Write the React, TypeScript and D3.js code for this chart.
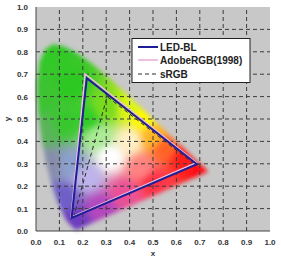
import React, { useMemo } from "react";
import * as d3 from "d3";

// CIE 1931 spectral locus (x, y) from 380 nm to 700 nm
const locusX = [0.1741,0.1740,0.1738,0.1736,0.1733,0.1730,0.1726,0.1721,0.1714,0.1703,0.1689,0.1669,0.1644,0.1611,0.1566,0.1510,0.1440,0.1355,0.1241,0.1096,0.0913,0.0687,0.0454,0.0235,0.0082,0.0039,0.0139,0.0389,0.0743,0.1142,0.1547,0.1929,0.2296,0.2658,0.3016,0.3373,0.3731,0.4087,0.4441,0.4788,0.5125,0.5448,0.5752,0.6029,0.6270,0.6482,0.6658,0.6801,0.6915,0.7006,0.7079,0.7140,0.7190,0.7230,0.7260,0.7300,0.7347];
const locusY = [0.0050,0.0050,0.0049,0.0049,0.0048,0.0048,0.0048,0.0048,0.0051,0.0058,0.0069,0.0086,0.0109,0.0138,0.0177,0.0227,0.0297,0.0399,0.0578,0.0868,0.1327,0.2007,0.2950,0.4127,0.5384,0.6548,0.7502,0.8120,0.8338,0.8262,0.8059,0.7816,0.7543,0.7243,0.6923,0.6589,0.6245,0.5896,0.5547,0.5202,0.4866,0.4544,0.4242,0.3965,0.3725,0.3514,0.3340,0.3197,0.3083,0.2993,0.2920,0.2859,0.2809,0.2770,0.2740,0.2700,0.2653];

// Gamut triangles (R, G, B vertices)
const ledX = [0.688, 0.217, 0.152];
const ledY = [0.298, 0.682, 0.058];
const adobeX = [0.685, 0.210, 0.150];
const adobeY = [0.305, 0.701, 0.062];
const srgbX = [0.675, 0.304, 0.162];
const srgbY = [0.300, 0.600, 0.066];

const ticks = [0, 0.1, 0.2, 0.3, 0.4, 0.5, 0.6, 0.7, 0.8, 0.9, 1.0];
const legendLabels = ["LED-BL", "AdobeRGB(1998)", "sRGB"];

// colour anchors for the stylised gamut fill: x, y, r, g, b
const anchors: number[][] = [
  [0.08, 0.80, 50, 200, 40],
  [0.03, 0.60, 60, 195, 50],
  [0.15, 0.65, 45, 200, 35],
  [0.22, 0.50, 50, 205, 40],
  [0.12, 0.48, 55, 200, 45],
  [0.04, 0.45, 90, 180, 90],
  [0.30, 0.55, 120, 220, 30],
  [0.40, 0.55, 220, 245, 20],
  [0.46, 0.50, 255, 250, 0],
  [0.27, 0.42, 170, 235, 150],
  [0.32, 0.33, 255, 255, 255],
  [0.40, 0.40, 255, 240, 200],
  [0.50, 0.42, 255, 180, 40],
  [0.55, 0.37, 255, 100, 40],
  [0.63, 0.32, 255, 30, 30],
  [0.72, 0.27, 255, 10, 20],
  [0.45, 0.28, 255, 130, 130],
  [0.50, 0.22, 255, 50, 70],
  [0.38, 0.17, 235, 80, 150],
  [0.28, 0.10, 180, 70, 190],
  [0.22, 0.24, 190, 180, 235],
  [0.15, 0.30, 140, 160, 205],
  [0.06, 0.30, 135, 140, 170],
  [0.12, 0.15, 110, 95, 200],
  [0.17, 0.04, 110, 60, 190],
];

const W = 281, H = 262;
const x = d3.scaleLinear().domain([0, 1]).range([36, 270]);
const y = d3.scaleLinear().domain([0, 1]).range([231, 7]);

function colorAt(px: number, py: number): number[] {
  let ws = 0, r = 0, g = 0, b = 0;
  for (const a of anchors) {
    const d2 = (px - a[0]) ** 2 + (py - a[1]) ** 2 + 1e-5;
    const w = 1 / Math.pow(d2, 1.9);
    ws += w; r += w * a[2]; g += w * a[3]; b += w * a[4];
  }
  return [r / ws, g / ws, b / ws];
}

export default function App() {
  const poly: [number, number][] = locusX.map((v, i) => [v, locusY[i]]);
  const pw = Math.round(x(1) - x(0));
  const ph = Math.round(y(0) - y(1));

  const dataUrl = useMemo(() => {
    const c = document.createElement("canvas");
    c.width = pw; c.height = ph;
    const ctx = c.getContext("2d");
    if (!ctx) return "";
    const img = ctx.createImageData(pw, ph);
    for (let j = 0; j < ph; j++) {
      for (let i = 0; i < pw; i++) {
        const dx = x.invert(x(0) + i + 0.5);
        const dy = y.invert(y(1) + j + 0.5);
        if (!d3.polygonContains(poly, [dx, dy])) continue;
        const [r, g, b] = colorAt(dx, dy);
        const k = (j * pw + i) * 4;
        img.data[k] = r; img.data[k + 1] = g; img.data[k + 2] = b; img.data[k + 3] = 255;
      }
    }
    ctx.putImageData(img, 0, 0);
    return c.toDataURL();
  }, []);

  const tri = (xs: number[], ys: number[]) =>
    xs.map((v, i) => `${x(v)},${y(ys[i])}`).join(" ");

  const font = "'Liberation Sans', Arial, sans-serif";
  const gridColor = "#3c3c3c";

  return (
    <svg width={W} height={H} style={{ position: "absolute", left: 0, top: 0 }}>
      <defs>
        <filter id="soft" x="-10%" y="-10%" width="120%" height="120%">
          <feGaussianBlur stdDeviation="2" />
        </filter>
      </defs>
      <rect x={0} y={0} width={W} height={H} fill="#fff" />
      <rect x={x(0)} y={y(1)} width={pw} height={ph} fill="#c8c8c8" />
      {dataUrl && (
        <image href={dataUrl} x={x(0)} y={y(1)} width={pw} height={ph} filter="url(#soft)" />
      )}
      {ticks.slice(1, -1).map((t) => (
        <g key={"g" + t}>
          <line x1={x(t)} x2={x(t)} y1={y(0)} y2={y(1)} stroke={gridColor} strokeDasharray="4,3" strokeWidth={1} />
          <line x1={x(0)} x2={x(1)} y1={y(t)} y2={y(t)} stroke={gridColor} strokeDasharray="4,3" strokeWidth={1} />
        </g>
      ))}
      <polygon points={tri(srgbX, srgbY)} fill="none" stroke="#2a2a2a" strokeWidth={1} strokeDasharray="4,3" />
      <polygon points={tri(adobeX, adobeY)} fill="none" stroke="#f0c0e0" strokeWidth={1.6} />
      <polygon points={tri(ledX, ledY)} fill="none" stroke="#1e1e96" strokeWidth={2} />
      <line x1={x(0)} x2={x(0)} y1={y(0)} y2={y(1)} stroke="#444" strokeWidth={1} />
      <line x1={x(0)} x2={x(1)} y1={y(0)} y2={y(0)} stroke="#444" strokeWidth={1} />
      {ticks.map((t) => (
        <g key={"t" + t} fontFamily={font} fontWeight="bold" fontSize={8} fill="#333">
          <text x={x(t)} y={y(0) + 14} textAnchor="middle">{t.toFixed(1)}</text>
          <text x={28} y={y(t) + 3} textAnchor="end">{t.toFixed(1)}</text>
        </g>
      ))}
      <text x={x(0.5)} y={256} textAnchor="middle" fontFamily={font} fontWeight="bold" fontSize={8} fill="#333">x</text>
      <text transform={`translate(10,${y(0.5)}) rotate(-90)`} textAnchor="middle" fontFamily={font} fontWeight="bold" fontSize={8} fill="#333">y</text>
      <g>
        <rect x={132} y={38.5} width={118} height={44} fill="#fff" stroke="#222" strokeWidth={1} />
        <line x1={138} x2={158} y1={47} y2={47} stroke="#1e1e96" strokeWidth={2} />
        <line x1={138} x2={158} y1={60} y2={60} stroke="#f0c0e0" strokeWidth={2} />
        <line x1={138} x2={158} y1={74} y2={74} stroke="#2a2a2a" strokeWidth={1} strokeDasharray="4,3" />
        {legendLabels.map((l, i) => (
          <text key={l} x={160} y={[47, 60, 74][i] + 3.6} fontFamily={font} fontWeight="bold" fontSize={10} fill="#222">{l}</text>
        ))}
      </g>
    </svg>
  );
}
